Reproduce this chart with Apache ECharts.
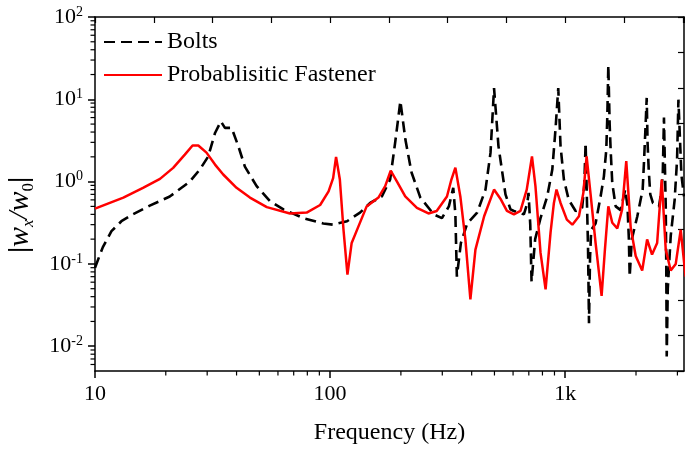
<!DOCTYPE html>
<html><head><meta charset="utf-8">
<script src="https://cdn.jsdelivr.net/npm/echarts@6/dist/echarts.min.js"></script>
<style>html,body{margin:0;padding:0;background:#fff}#c{width:685px;height:449px}</style>
</head><body><div id="c"></div>
<script>
// ---- data ----
const boltsFreq = [10,10.8,11.75,12.95,14.5,17.1,20.8,25.3,27.9,30.3,32.4,34.3,35.7,38.1,40.7,43.4,48.7,55.5,63.3,77,93.5,103,118,134,148,166,180,189,199,209,222,242,276,299,320,334,341,346,360,383,422,458,481,498,520,557,585,605,667,690,698,710,719,745,785,838,881,909,934,955,987,1035,1107,1180,1205,1221,1235,1250,1262,1275,1290,1346,1414,1460,1495,1510,1525,1545,1560,1585,1639,1720,1800,1840,1865,1880,1920,2026,2135,2165,2199,2221,2240,2265,2300,2360,2425,2505,2570,2600,2630,2655,2676,2690,2702,2730,2810,2920,2990,3030,3080,3120,3200];
const boltsAmp = [0.09,0.16,0.25,0.33,0.40,0.51,0.66,1.0,1.40,2.02,3.9,5.4,4.5,4.5,2.7,1.52,0.88,0.58,0.46,0.36,0.31,0.30,0.33,0.42,0.55,0.66,1.06,2.95,9.5,3.24,1.29,0.64,0.40,0.36,0.5,0.84,0.4,0.07,0.18,0.31,0.42,0.80,2.23,13.7,2.7,0.70,0.46,0.44,0.40,0.55,0.73,0.3,0.061,0.2,0.36,0.66,1.40,4.3,13.7,2.7,1.06,0.60,0.44,0.48,0.9,2.95,0.7,0.16,0.019,0.12,0.26,0.31,0.66,1.15,2.45,6.2,26,5,2.45,0.96,0.50,0.45,0.8,0.5,0.2,0.07,0.2,0.38,0.80,1.85,5.2,10.4,2.95,1.40,0.70,0.55,0.53,0.50,0.8,1.3,6.0,1.5,0.5,0.093,0.0075,0.05,0.22,0.60,1.85,9.9,3.0,1.2,0.66];
const fastFreq = [10,13.2,16.0,18.9,21.5,24.1,26.0,27.5,29.8,32.4,35.1,40.0,45.6,53.8,67.5,79.5,90.7,98.5,103,106,110,114,118.5,123.5,131.6,143,160.5,171.5,181,192.5,208.7,234,262,284,314,328,341,358,376,395,415,452,498,530,565,605,645,686,722,747,785,825,866,895,918,955,1016,1072,1144,1194,1233,1282,1346,1428,1475,1525,1585,1665,1745,1818,1898,1994,2125,2230,2340,2460,2573,2676,2810,2951,3099,3250];
const fastAmp = [0.47,0.64,0.84,1.08,1.47,2.13,2.75,2.75,2.25,1.61,1.22,0.84,0.64,0.49,0.41,0.42,0.52,0.76,1.1,2.0,1.06,0.26,0.074,0.18,0.28,0.50,0.64,0.88,1.36,1.0,0.66,0.48,0.41,0.44,0.66,1.06,1.48,0.66,0.20,0.037,0.149,0.38,0.80,0.62,0.44,0.40,0.44,0.80,2.02,0.88,0.137,0.049,0.24,0.55,0.80,0.55,0.345,0.30,0.38,0.73,2.02,0.70,0.18,0.041,0.149,0.50,0.316,0.27,0.457,1.77,0.28,0.125,0.083,0.198,0.13,0.18,1.06,0.149,0.083,0.10,0.26,0.07];
const seriesNames = ['Bolts', 'Probablisitic Fastener'];

// ---- ticks / labels ----
const xMin = 10, xMax = 3200, yMin = 0.005, yMax = 100;
const xMajorTicks = [10, 100, 1000];
const xMajorLabels = ['10', '100', '1k'];
const xMinorTicks = [20,30,40,50,60,70,80,90,200,300,400,500,600,700,800,900,2000,3000];
const yMajorTicks = [0.01, 0.1, 1, 10, 100];
const yExponents = ['-2', '-1', '0', '1', '2'];
const yMinorTicks = [0.006,0.007,0.008,0.009,0.02,0.03,0.04,0.05,0.06,0.07,0.08,0.09,0.2,0.3,0.4,0.5,0.6,0.7,0.8,0.9,2,3,4,5,6,7,8,9,20,30,40,50,60,70,80,90];

const FONT = 'Liberation Serif';
const L = Math.log10;
const zip = (a, b) => a.map((v, i) => [v, b[i]]);
const line = { show: true, lineStyle: { color: '#000', width: 1.5 }, onZero: false };
const noLine = { show: false, onZero: false };
const hide = { show: false };
const logRound = v => Math.round(v * 1000) / 1000;

// helper tick axes (log10 space) for the labelled major ticks
function tickAxis(pos, min, max, ticks, len, labelExtra) {
  const vals = ticks.map(L);
  return {
    type: 'value', min: L(min), max: L(max), position: pos, axisLine: noLine,
    axisTick: { show: true, inside: false, length: len, customValues: vals, lineStyle: { color: '#000', width: 1.5 } },
    axisLabel: Object.assign({ show: true, customValues: vals, color: '#000' }, labelExtra),
    splitLine: hide, minorTick: hide
  };
}
// short outward minor ticks, placed through the log axes
function minorTickSeries(values, dir) {
  return {
    type: 'custom', xAxisIndex: 0, yAxisIndex: 0, silent: true, clip: false, z: 5,
    data: values.map(v => dir === 'x' ? [v, yMin] : [xMin, v]),
    renderItem: (params, api) => {
      const p = api.coord([api.value(0), api.value(1)]);
      const q = dir === 'x' ? [p[0], p[1] + 4.5] : [p[0] - 4.5, p[1]];
      return { type: 'line', shape: { x1: p[0], y1: p[1], x2: q[0], y2: q[1] }, style: { stroke: '#000', lineWidth: 1.2 } };
    }
  };
}

const chart = echarts.init(document.getElementById('c'), null, { renderer: 'canvas' });
chart.setOption({
  backgroundColor: '#fff',
  animation: false,
  grid: { left: 95, right: 1, top: 17, bottom: 78, containLabel: false, outerBoundsMode: 'none' },
  legend: {
    data: seriesNames, orient: 'vertical', left: 103, top: 30, padding: 0,
    itemWidth: 58, itemHeight: 14, itemGap: 9,
    itemStyle: { opacity: 0 },
    textStyle: { fontFamily: FONT, fontSize: 24, color: '#000' }
  },
  xAxis: [
    { type: 'log', min: xMin, max: xMax, position: 'bottom', axisLine: line,
      axisTick: hide, axisLabel: hide, splitLine: hide, minorTick: hide,
      name: 'Frequency (Hz)', nameLocation: 'middle', nameGap: 50,
      nameTextStyle: { fontFamily: FONT, fontSize: 24, color: '#000' } },
    tickAxis('bottom', xMin, xMax, xMajorTicks, 7, { margin: 12, fontFamily: FONT, fontSize: 22,
      formatter: v => xMajorLabels[xMajorTicks.map(L).map(logRound).indexOf(logRound(v))] }),
    { type: 'value', min: 1, max: L(xMax), interval: 0.25, position: 'top', axisLine: line,
      axisTick: { show: true, inside: true, length: 6, lineStyle: { color: '#000', width: 1.2 } },
      axisLabel: hide, splitLine: hide }
  ],
  yAxis: [
    { type: 'log', min: yMin, max: yMax, position: 'left', axisLine: line,
      axisTick: hide, axisLabel: hide, splitLine: hide, minorTick: hide,
      name: '{bar||}{w|w}{sx|x}{sl|/}{w|w}{s0|0}{bar||}', nameLocation: 'middle', nameGap: 58, nameRotate: 90,
      nameTextStyle: { padding: [0, 42, 0, 0],
        rich: { bar: { fontFamily: FONT, fontSize: 28, color: '#000', fontWeight: 'bold', lineHeight: 34 },
                w: { fontFamily: FONT, fontSize: 30, fontStyle: 'italic', color: '#000', lineHeight: 34 },
                sl: { fontFamily: FONT, fontSize: 28, fontStyle: 'italic', color: '#000', lineHeight: 34 },
                sx: { fontFamily: FONT, fontSize: 17, fontStyle: 'italic', color: '#000', verticalAlign: 'bottom', lineHeight: 34 },
                s0: { fontFamily: FONT, fontSize: 17, color: '#000', verticalAlign: 'bottom', lineHeight: 34 } } } },
    tickAxis('left', yMin, yMax, yMajorTicks, 7, { margin: 12,
      formatter: v => '{b|10}{e|' + yExponents[yMajorTicks.map(L).map(logRound).indexOf(logRound(v))] + '}',
      rich: { b: { fontFamily: FONT, fontSize: 22, color: '#000', lineHeight: 24 },
              e: { fontFamily: FONT, fontSize: 14, color: '#000', verticalAlign: 'top', lineHeight: 24 } } }),
    { type: 'value', min: 0, max: 10, interval: 1, position: 'right', axisLine: line,
      axisTick: { show: true, inside: true, length: 6, lineStyle: { color: '#000', width: 1.2 } },
      axisLabel: hide, splitLine: hide }
  ],
  series: [
    { name: seriesNames[0], type: 'line', xAxisIndex: 0, yAxisIndex: 0, showSymbol: false, symbol: 'none',
      data: zip(boltsFreq, boltsAmp), lineStyle: { color: '#000', width: 2.6, type: [11, 6] }, itemStyle: { color: '#000' } },
    { name: seriesNames[1], type: 'line', xAxisIndex: 0, yAxisIndex: 0, showSymbol: false, symbol: 'none',
      data: zip(fastFreq, fastAmp), lineStyle: { color: '#ff0000', width: 2.5 }, itemStyle: { color: '#ff0000' } },
    minorTickSeries(xMinorTicks, 'x'),
    minorTickSeries(yMinorTicks, 'y')
  ]
});
</script></body></html>
